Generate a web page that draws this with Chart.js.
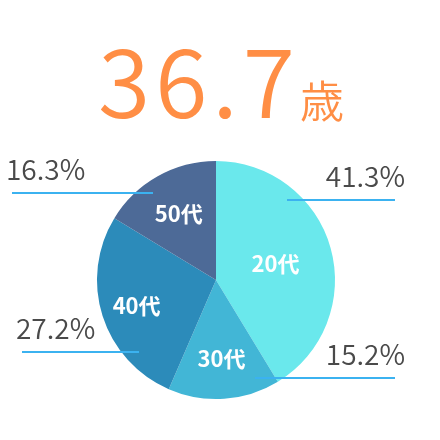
<!DOCTYPE html>
<html>
<head>
<meta charset="utf-8">
<script src="https://cdn.jsdelivr.net/npm/chart.js@4/dist/chart.umd.min.js"></script>
<style>
  html, body { margin: 0; padding: 0; background: #fff; }
  #wrap { width: 440px; height: 440px; position: relative; }
</style>
</head>
<body>
<div id="wrap"><canvas id="ageChart" width="440" height="440"></canvas></div>
<script>
// chart data
const ageGroups = ["20代", "30代", "40代", "50代"];
const shares = [41.3, 15.2, 27.2, 16.3];
const sliceColors = ["#6AE8EC", "#42B6D6", "#2C8BBA", "#4D6A97"];
const averageAge = "36.7";
const ageUnit = "歳";

document.addEventListener("DOMContentLoaded", function () {
    const ctx = document.getElementById("ageChart").getContext("2d");
    const FONT = "'Noto Sans CJK JP', 'Noto Sans', sans-serif";

    // label radius (fraction of pie radius) for the name inside each slice
    const nameRadius = [0.52, 0.66, 0.70, 0.64];
    // callouts: side, line y, line start x, line end x (canvas px)
    const callouts = [
        { side: "right", y: 200, x1: 287, x2: 395 },
        { side: "right", y: 378, x1: 255, x2: 395 },
        { side: "left", y: 352, x1: 22, x2: 139 },
        { side: "left", y: 193, x1: 12, x2: 153 },
    ];

    const decorations = {
        id: "decorations",
        afterDraw(chart) {
            const c = chart.ctx;
            const meta = chart.getDatasetMeta(0);
            c.save();

            // headline
            c.fillStyle = "#FF8E45";
            c.textBaseline = "alphabetic";
            c.textAlign = "left";
            c.font = "350 95px " + FONT;
            if (c.letterSpacing !== undefined) c.letterSpacing = "5px";
            c.fillText(averageAge, 98, 118);
            if (c.letterSpacing !== undefined) c.letterSpacing = "0px";
            c.font = "350 44px " + FONT;
            c.fillText(ageUnit, 300, 118);

            // slice names
            c.fillStyle = "#ffffff";
            c.textAlign = "center";
            c.textBaseline = "middle";
            c.font = "700 22px " + FONT;
            meta.data.forEach((arc, i) => {
                const p = arc.getProps(["x", "y", "startAngle", "endAngle", "outerRadius"], true);
                const mid = (p.startAngle + p.endAngle) / 2;
                const r = p.outerRadius * nameRadius[i];
                c.fillText(ageGroups[i], p.x + Math.cos(mid) * r, p.y + Math.sin(mid) * r);
            });

            // callout lines and percentages
            c.font = "350 28px " + FONT;
            c.textBaseline = "alphabetic";
            callouts.forEach((co, i) => {
                c.strokeStyle = "#3BB2F0";
                c.lineWidth = 2;
                c.beginPath();
                c.moveTo(co.x1, co.y);
                c.lineTo(co.x2, co.y);
                c.stroke();
                c.fillStyle = "#4a4a4a";
                const txt = shares[i].toFixed(1) + "%";
                if (co.side === "right") {
                    c.textAlign = "right";
                    c.fillText(txt, co.x2 + 10, co.y - 13);
                } else {
                    c.textAlign = "left";
                    c.fillText(txt, co.x1 - 6, co.y - 13);
                }
            });
            c.restore();
        },
    };

    new Chart(ctx, {
        type: "pie",
        data: {
            labels: ageGroups,
            datasets: [{
                data: shares,
                backgroundColor: sliceColors,
                borderWidth: 0,
            }],
        },
        options: {
            responsive: false,
            animation: false,
            layout: { padding: { top: 161, bottom: 41, left: 97, right: 105 } },
            plugins: {
                legend: { display: false },
                tooltip: { enabled: false },
            },
        },
        plugins: [decorations],
    });
});
</script>
</body>
</html>
